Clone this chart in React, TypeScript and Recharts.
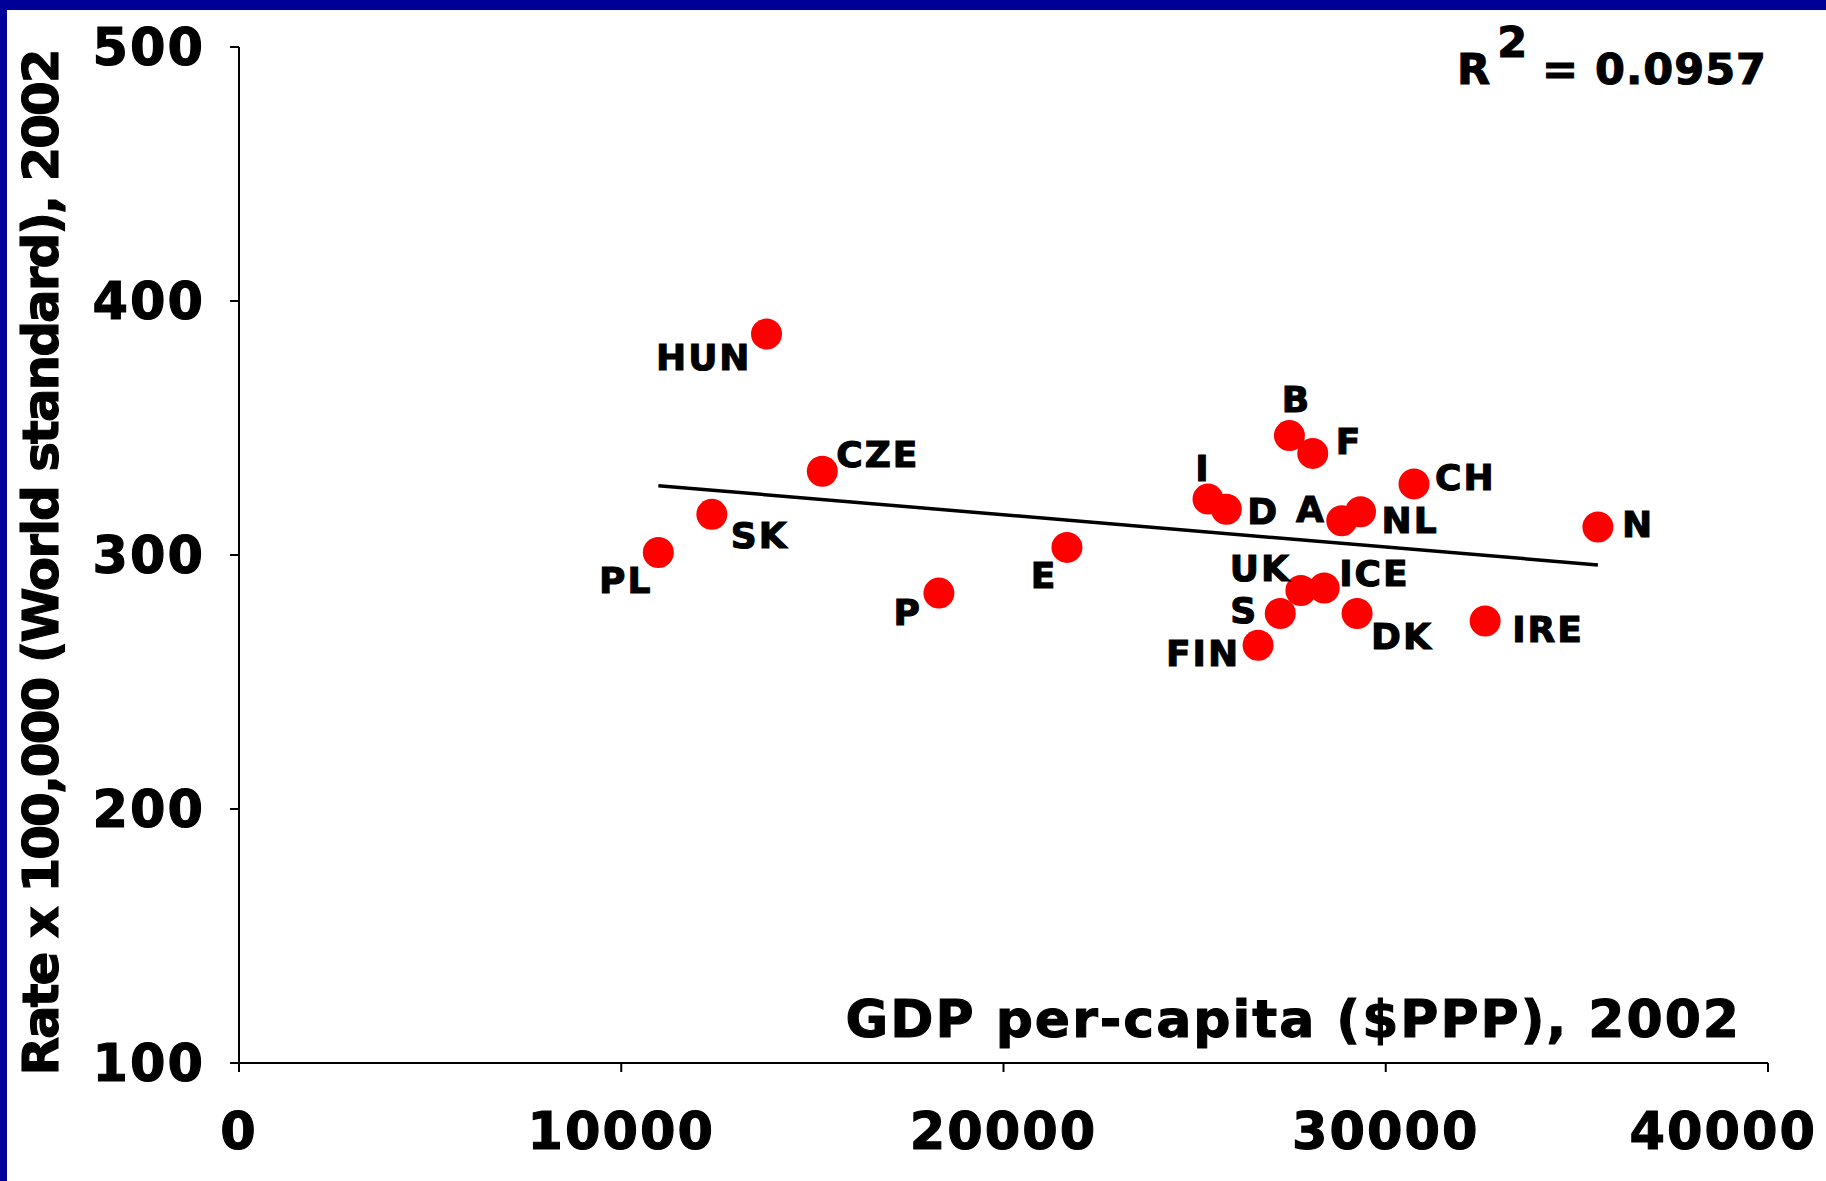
import React from 'react';
import { ScatterChart, Scatter, XAxis, YAxis, ReferenceLine } from 'recharts';

const countries = ['HUN', 'CZE', 'SK', 'PL', 'P', 'E', 'I', 'D', 'B', 'F', 'A', 'NL', 'CH', 'N', 'UK', 'ICE', 'S', 'DK', 'FIN', 'IRE'];
const gdpPerCapita = [13800, 15260, 12370, 10970, 18310, 21660, 25350, 25830, 27480, 28090, 28850, 29340, 30740, 35550, 27780, 28390, 27240, 29250, 26660, 32600];
const ratePer100k = [387, 333, 316, 301, 285, 303, 322, 318, 347, 340, 313.5, 317, 328, 311, 286, 287, 277, 277, 264.5, 274];

const xTicks = [0, 10000, 20000, 30000, 40000];
const yTicks = [100, 200, 300, 400, 500];

const trendGdp = [10970, 35550];
const trendRate = [327.3, 296.1];
const rSquaredText = '0.0957';

const xTitle = 'GDP per-capita ($PPP), 2002';
const yTitle = 'Rate x 100,000 (World standard), 2002';

// label placement relative to each marker (pixels) - styling only
const labelOffsets: Record<string, { dx: number; dy: number; anchor: 'start' | 'end' | 'middle' }> = {
  HUN: { dx: -15, dy: 23, anchor: 'end' },
  CZE: { dx: 14, dy: -17, anchor: 'start' },
  SK: { dx: 19, dy: 21, anchor: 'start' },
  PL: { dx: -6, dy: 28, anchor: 'end' },
  P: { dx: -17, dy: 19, anchor: 'end' },
  E: { dx: -23, dy: 28, anchor: 'middle' },
  I: { dx: -5, dy: -31, anchor: 'middle' },
  D: { dx: 21, dy: 2, anchor: 'start' },
  B: { dx: 7, dy: -37, anchor: 'middle' },
  F: { dx: 23, dy: -12, anchor: 'start' },
  A: { dx: -16, dy: -12, anchor: 'end' },
  NL: { dx: 21, dy: 8, anchor: 'start' },
  CH: { dx: 21, dy: -7, anchor: 'start' },
  N: { dx: 24, dy: -3, anchor: 'start' },
  UK: { dx: -10, dy: -23, anchor: 'end' },
  ICE: { dx: 15, dy: -15, anchor: 'start' },
  S: { dx: -22, dy: -3, anchor: 'end' },
  DK: { dx: 14, dy: 23, anchor: 'start' },
  FIN: { dx: -18, dy: 8, anchor: 'end' },
  IRE: { dx: 27, dy: 8, anchor: 'start' },
};

const data = countries.map((c, i) => ({ x: gdpPerCapita[i], y: ratePer100k[i], name: c }));

const FONT = '"DejaVu Sans", Verdana, sans-serif';
const W = 1819;
const H = 1171;
const HEAVY = { stroke: '#000', strokeWidth: 1.1, paintOrder: 'stroke' as const };

const Dot = (props: any) => {
  const { cx, cy } = props;
  if (cx == null || cy == null) return null;
  return <circle cx={cx} cy={cy} r={15.5} fill="#ff0000" />;
};

const PointLabel = (props: any) => {
  const { cx, cy, payload } = props;
  if (cx == null || cy == null || !payload) return null;
  const o = labelOffsets[payload.name] || { dx: 18, dy: 0, anchor: 'start' };
  return (
    <text
      x={cx + o.dx}
      y={cy + o.dy + 13}
      textAnchor={o.anchor}
      fontFamily={FONT}
      fontWeight={700}
      fontSize={36}
      letterSpacing={2}
      fill="#000"
      {...HEAVY}
    >
      {payload.name}
    </text>
  );
};

const XTick = (props: any) => {
  const { x, y, payload } = props;
  const isLast = payload.value === xTicks[xTicks.length - 1];
  return (
    <text
      x={isLast ? x + 49 : x}
      y={y}
      dy="0.71em"
      textAnchor={isLast ? 'end' : 'middle'}
      fontFamily={FONT}
      fontWeight={700}
      fontSize={51}
      letterSpacing={2}
      fill="#000"
      {...HEAVY}
    >
      {payload.value}
    </text>
  );
};

const YTick = (props: any) => {
  const { x, y, payload } = props;
  return (
    <text
      x={x}
      y={y}
      dy="0.355em"
      textAnchor="end"
      fontFamily={FONT}
      fontWeight={700}
      fontSize={51}
      letterSpacing={2}
      fill="#000"
      {...HEAVY}
    >
      {payload.value}
    </text>
  );
};

const XTitle = () => (
  <g>
    <text x={1734} y={1027} textAnchor="end" fontFamily={FONT} fontWeight={700} fontSize={52} letterSpacing={2} fill="#000" {...HEAVY}>
      {xTitle}
    </text>
    <text x={1760} y={74} textAnchor="end" fontFamily={FONT} fontWeight={700} fontSize={43} letterSpacing={1} fill="#000" {...HEAVY}>
      R<tspan dx={6} dy={-27}>2</tspan>
      <tspan dx={14} dy={27}>{'= ' + rSquaredText}</tspan>
    </text>
  </g>
);

const YTitle = () => (
  <text
    x={34}
    y={553}
    transform="rotate(-90, 34, 553)"
    textAnchor="middle"
    dominantBaseline="central"
    fontFamily={FONT}
    fontWeight={700}
    fontSize={50}
    letterSpacing={-2}
    fill="#000"
    {...HEAVY}
  >
    {yTitle}
  </text>
);

export default function App() {
  return (
    <div style={{ width: 1826, height: 1181, background: '#000099', boxSizing: 'border-box', paddingLeft: 7, paddingTop: 10, overflow: 'hidden' }}>
      <style>{'body{margin:0;}'}</style>
      <div style={{ width: W, height: H, background: '#ffffff' }}>
        <ScatterChart width={W} height={H} margin={{ top: 37, right: 58, bottom: 18, left: 0 }}>
          <XAxis
            type="number"
            dataKey="x"
            domain={[0, 40000]}
            ticks={xTicks}
            interval={0}
            height={100}
            tickSize={9}
            tickMargin={41}
            axisLine={{ stroke: '#000', strokeWidth: 2 }}
            tickLine={{ stroke: '#000', strokeWidth: 2 }}
            tick={<XTick />}
            allowDataOverflow
            label={{ content: () => <XTitle /> }}
          />
          <YAxis
            type="number"
            dataKey="y"
            domain={[100, 500]}
            ticks={yTicks}
            interval={0}
            width={232}
            tickSize={9}
            tickMargin={25}
            axisLine={{ stroke: '#000', strokeWidth: 2 }}
            tickLine={{ stroke: '#000', strokeWidth: 2 }}
            tick={<YTick />}
            allowDataOverflow
            label={{ content: () => <YTitle /> }}
          />
          <ReferenceLine
            segment={[
              { x: trendGdp[0], y: trendRate[0] },
              { x: trendGdp[1], y: trendRate[1] },
            ]}
            stroke="#000"
            strokeWidth={3.5}
            ifOverflow="visible"
          />
          <Scatter data={data} shape={<Dot />} isAnimationActive={false} />
          <Scatter data={data} shape={<PointLabel />} isAnimationActive={false} />
        </ScatterChart>
      </div>
    </div>
  );
}
